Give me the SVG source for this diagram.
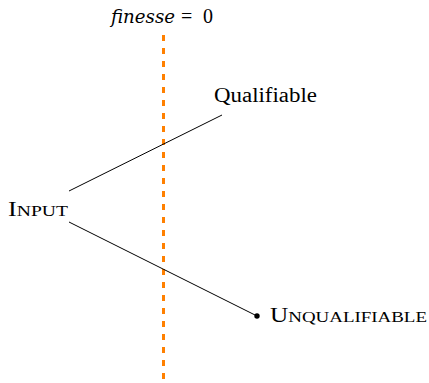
<svg xmlns="http://www.w3.org/2000/svg" width="429" height="383" viewBox="0 0 429 383">
<style>
text{font-family:"Liberation Serif","DejaVu Serif",serif;fill:#000;font-size:20px}
.sc{font-size:15px}
.it{font-family:"DejaVu Serif",serif;font-style:italic;font-size:19px}
.edge{stroke:#000;stroke-width:1;fill:none}
</style>
<rect width="429" height="383" fill="#fff"/>
<g id="threshold">
<line x1="163.5" y1="35" x2="163.5" y2="383" stroke="#ff8000" stroke-width="3" stroke-dasharray="6 7"/>
<text x="111" y="23"><tspan class="it" textLength="64" lengthAdjust="spacingAndGlyphs">finesse</tspan><tspan x="181">=</tspan><tspan x="203">0</tspan></text>
</g>
<g id="connectors">
<line class="edge" x1="69" y1="191" x2="222" y2="115"/>
<line class="edge" x1="69" y1="222" x2="257" y2="316"/>
<circle cx="257" cy="316" r="2.7" fill="#000"/>
</g>
<g id="input">
<text x="8" y="216" textLength="60" lengthAdjust="spacingAndGlyphs">I<tspan class="sc">NPUT</tspan></text>
</g>
<g id="qualifiable">
<text x="214" y="102" textLength="103" lengthAdjust="spacingAndGlyphs">Qualifiable</text>
</g>
<g id="unqualifiable">
<text x="270" y="322" textLength="157" lengthAdjust="spacingAndGlyphs">U<tspan class="sc">NQUALIFIABLE</tspan></text>
</g>
</svg>
